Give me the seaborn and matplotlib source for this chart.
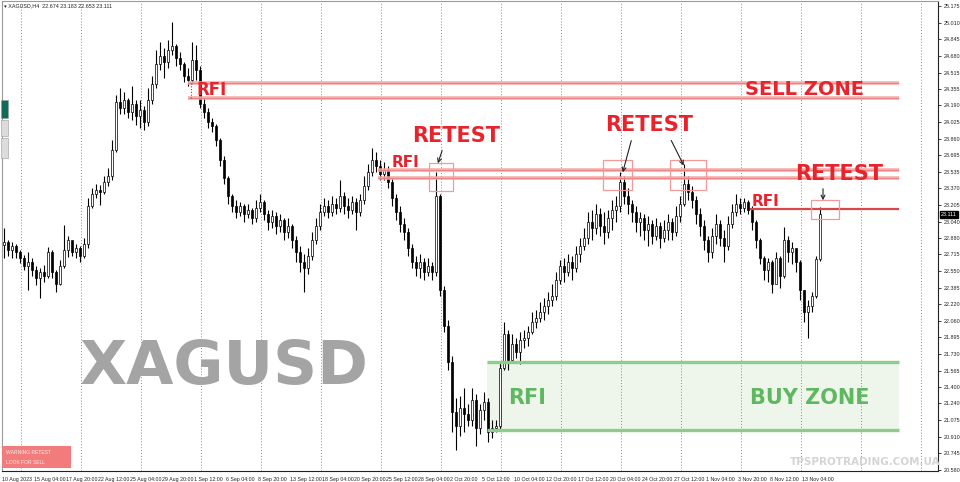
import numpy as np
import pandas as pd
import matplotlib
matplotlib.use("Agg")
import matplotlib.pyplot as plt
import seaborn as sns
from matplotlib.patches import Rectangle

# XAGUSD candles (8-hour buckets), prices in USD
first_open = 22.808
close = [
    22.838, 22.759, 22.799, 22.739, 22.680, 22.601, 22.640, 22.561, 22.482, 22.541,
    22.502, 22.739, 22.541, 22.422, 22.601, 22.759, 22.858, 22.739, 22.779, 22.700,
    22.818, 23.195, 23.313, 23.353, 23.333, 23.432, 23.492, 23.749, 24.224, 24.165,
    24.244, 24.125, 24.204, 24.086, 24.145, 24.026, 24.244, 24.402, 24.600, 24.680,
    24.620, 24.739, 24.779, 24.660, 24.600, 24.482, 24.442, 24.640, 24.541, 24.204,
    24.125, 24.026, 23.987, 23.848, 23.650, 23.472, 23.294, 23.195, 23.135, 23.195,
    23.115, 23.155, 23.076, 23.175, 23.234, 23.115, 23.036, 23.096, 22.997, 23.056,
    22.937, 22.997, 22.858, 22.739, 22.640, 22.581, 22.700, 22.858, 22.997, 23.135,
    23.195, 23.135, 23.214, 23.175, 23.294, 23.195, 23.155, 23.234, 23.135, 23.254,
    23.393, 23.531, 23.650, 23.591, 23.511, 23.551, 23.432, 23.274, 23.135, 23.016,
    22.937, 22.779, 22.640, 22.581, 22.640, 22.541, 22.601, 22.541, 23.294, 22.363,
    22.007, 21.650, 21.155, 21.017, 21.195, 21.135, 21.076, 21.274, 20.997, 21.175,
    21.254, 20.957, 20.997, 21.017, 21.591, 21.927, 21.670, 21.828, 21.749, 21.868,
    21.888, 21.947, 22.046, 22.086, 22.145, 22.205, 22.264, 22.304, 22.462, 22.601,
    22.541, 22.640, 22.581, 22.719, 22.799, 22.878, 23.036, 22.977, 23.115, 22.997,
    22.937, 23.076, 23.155, 23.195, 23.432, 23.294, 23.214, 23.135, 23.036, 23.076,
    22.957, 23.016, 22.898, 22.997, 22.878, 22.957, 23.036, 22.937, 23.096, 23.214,
    23.412, 23.333, 23.254, 23.115, 22.997, 22.858, 22.739, 22.898, 23.016, 22.878,
    22.799, 23.016, 23.135, 23.214, 23.175, 23.234, 23.155, 23.036, 22.858, 22.680,
    22.561, 22.640, 22.422, 22.680, 22.502, 22.858, 22.739, 22.779, 22.640, 22.363,
    22.145, 22.205, 22.304, 22.674, 23.111,
]
high = [
    22.977, 22.858, 22.838, 22.818, 22.759, 22.709, 22.739, 22.680, 22.601, 22.581,
    22.611, 22.789, 22.759, 22.561, 22.660, 23.007, 22.898, 22.818, 22.818, 22.799,
    22.878, 23.274, 23.373, 23.412, 23.403, 23.492, 23.571, 23.848, 24.294, 24.363,
    24.323, 24.264, 24.383, 24.244, 24.244, 24.185, 24.363, 24.482, 24.739, 24.818,
    24.759, 24.838, 25.016, 24.798, 24.719, 24.620, 24.561, 24.818, 24.788, 24.581,
    24.264, 24.165, 24.066, 24.006, 23.868, 23.690, 23.492, 23.313, 23.254, 23.234,
    23.214, 23.214, 23.175, 23.254, 23.313, 23.254, 23.155, 23.155, 23.135, 23.115,
    23.076, 23.076, 23.016, 22.898, 22.799, 22.719, 22.779, 22.937, 23.076, 23.214,
    23.274, 23.254, 23.294, 23.274, 23.452, 23.333, 23.274, 23.294, 23.274, 23.313,
    23.492, 23.610, 23.769, 23.729, 23.650, 23.630, 23.591, 23.472, 23.313, 23.195,
    23.076, 22.977, 22.818, 22.700, 22.719, 22.680, 22.680, 22.640, 23.531, 23.313,
    22.403, 22.066, 21.710, 21.294, 21.314, 21.393, 21.234, 21.393, 21.333, 21.234,
    21.353, 21.294, 21.076, 21.076, 21.650, 22.046, 21.967, 21.927, 21.888, 21.947,
    21.967, 22.007, 22.145, 22.165, 22.244, 22.284, 22.343, 22.422, 22.541, 22.660,
    22.680, 22.719, 22.700, 22.799, 22.878, 22.977, 23.135, 23.155, 23.214, 23.175,
    23.135, 23.155, 23.254, 23.294, 23.531, 23.492, 23.373, 23.254, 23.195, 23.135,
    23.115, 23.096, 23.056, 23.076, 23.036, 23.056, 23.115, 23.076, 23.195, 23.294,
    23.610, 23.492, 23.393, 23.294, 23.175, 23.056, 22.898, 22.977, 23.115, 23.056,
    22.957, 23.096, 23.214, 23.313, 23.274, 23.274, 23.254, 23.195, 23.056, 22.878,
    22.700, 22.680, 22.660, 22.739, 22.700, 22.987, 22.898, 22.838, 22.759, 22.660,
    22.363, 22.264, 22.343, 22.700, 23.183,
]
low = [
    22.680, 22.700, 22.680, 22.680, 22.630, 22.561, 22.363, 22.502, 22.412, 22.284,
    22.442, 22.482, 22.482, 22.343, 22.412, 22.581, 22.690, 22.700, 22.680, 22.640,
    22.680, 22.779, 23.175, 23.274, 23.204, 23.313, 23.393, 23.452, 23.729, 24.105,
    24.105, 24.066, 24.046, 23.997, 23.967, 23.947, 23.987, 24.204, 24.363, 24.541,
    24.462, 24.561, 24.689, 24.581, 24.541, 24.422, 24.383, 24.402, 24.442, 24.165,
    24.066, 23.967, 23.927, 23.789, 23.591, 23.412, 23.214, 23.135, 23.076, 23.096,
    23.036, 23.076, 23.016, 23.036, 23.135, 23.056, 22.957, 22.977, 22.917, 22.937,
    22.858, 22.878, 22.779, 22.640, 22.541, 22.343, 22.521, 22.660, 22.818, 22.957,
    23.096, 23.076, 23.096, 23.115, 23.135, 23.115, 23.076, 23.115, 22.957, 23.096,
    23.214, 23.353, 23.492, 23.531, 23.452, 23.452, 23.373, 23.195, 23.056, 22.937,
    22.858, 22.700, 22.581, 22.502, 22.482, 22.462, 22.502, 22.462, 22.502, 22.304,
    21.947, 21.571, 20.957, 20.779, 20.918, 20.957, 21.017, 21.017, 20.819, 20.937,
    21.076, 20.858, 20.898, 20.957, 20.977, 21.571, 21.571, 21.650, 21.690, 21.630,
    21.789, 21.809, 21.927, 21.987, 22.046, 22.066, 22.125, 22.205, 22.264, 22.422,
    22.442, 22.502, 22.462, 22.541, 22.640, 22.759, 22.818, 22.858, 22.917, 22.898,
    22.818, 22.878, 22.957, 23.036, 23.135, 23.214, 23.115, 23.036, 22.937, 22.898,
    22.858, 22.799, 22.818, 22.858, 22.779, 22.838, 22.858, 22.858, 22.898, 23.036,
    23.195, 23.254, 23.175, 23.016, 22.898, 22.759, 22.640, 22.680, 22.818, 22.799,
    22.640, 22.759, 22.977, 23.096, 23.115, 23.135, 23.115, 22.957, 22.779, 22.620,
    22.462, 22.442, 22.333, 22.541, 22.383, 22.482, 22.640, 22.620, 22.541, 22.264,
    22.046, 21.888, 22.145, 22.284, 22.653,
]

date_labels = [
    "10 Aug 2023", "15 Aug 04:00", "17 Aug 20:00", "22 Aug 12:00", "25 Aug 04:00",
    "29 Aug 20:00", "1 Sep 12:00", "6 Sep 04:00", "8 Sep 20:00", "13 Sep 12:00",
    "18 Sep 04:00", "20 Sep 20:00", "25 Sep 12:00", "28 Sep 04:00", "2 Oct 20:00",
    "5 Oct 12:00", "10 Oct 04:00", "12 Oct 20:00", "17 Oct 12:00", "20 Oct 04:00",
    "24 Oct 20:00", "27 Oct 12:00", "1 Nov 04:00", "3 Nov 20:00", "8 Nov 12:00",
    "13 Nov 04:00",
]
price_ticks = [
    25.175, 25.010, 24.845, 24.680, 24.515, 24.355, 24.190, 24.025, 23.860, 23.695,
    23.535, 23.370, 23.205, 23.040, 22.880, 22.715, 22.550, 22.385, 22.220, 22.060,
    21.895, 21.730, 21.565, 21.400, 21.240, 21.075, 20.910, 20.745, 20.580,
]
last_price = 23.111

sell_zone = (24.264, 24.412)
resistance = (23.472, 23.551)
rfi_level = 23.165
buy_zone = (20.977, 21.650)

sns.set_style("white")
plt.rcParams["font.family"] = ["DejaVu Sans"]
axis_font = ["Liberation Sans", "DejaVu Sans"]

df = pd.DataFrame({"close": close, "high": high, "low": low})
df["open"] = [first_open] + close[:-1]
df["bar"] = np.arange(len(df))
df["bottom"] = df[["open", "close"]].min(axis=1)
df["body"] = (df["close"] - df["open"]).abs().clip(lower=0.004)
up = df["close"] >= df["open"]

fig = plt.figure(figsize=(9.6, 4.82), dpi=100)
ax = fig.add_axes([2 / 960, 11 / 482, 936 / 960, 470 / 482])
ax.set_xlim(-0.5, 233.5)
ax.set_ylim(20.571, 25.224)

# dotted weekly separators
for k in range(16):
    ax.axvline(4.25 + 15 * k, color="#8a8a8a", lw=0.7, ls=(0, (1, 2)), zorder=1)

# buy zone fill
ax.add_patch(Rectangle((120.75, buy_zone[0]), 103, buy_zone[1] - buy_zone[0],
                       facecolor="#eef6ec", edgecolor="none", zorder=0.5))

# candles
ax.vlines(df["bar"], df["low"], df["high"], color="black", lw=0.8, zorder=3)
ax.bar(df.loc[up, "bar"], df.loc[up, "body"], bottom=df.loc[up, "bottom"], width=0.6,
       color="white", edgecolor="black", linewidth=0.5, zorder=4)
ax.bar(df.loc[~up, "bar"], df.loc[~up, "body"], bottom=df.loc[~up, "bottom"], width=0.6,
       color="black", edgecolor="black", linewidth=0.5, zorder=4)

red = "#e8232b"
green = "#5fb85f"

# zone lines
for lvl in sell_zone:
    ax.hlines(lvl, 46, 223.75, color="#f4a5a5", lw=2.6, zorder=5, alpha=0.9)
    ax.hlines(lvl, 46, 223.75, color="#ec7c7c", lw=0.6, zorder=5)
ax.vlines(46.75, sell_zone[0], sell_zone[1], color=red, lw=0.8, ls=(0, (1, 1.5)), zorder=5)
for lvl in resistance:
    ax.hlines(lvl, 93.5, 223.75, color="#f4a5a5", lw=2.6, zorder=5, alpha=0.9)
    ax.hlines(lvl, 93.5, 223.75, color="#ec7c7c", lw=0.6, zorder=5)
ax.hlines(rfi_level, 186.5, 223.75, color="#d94848", lw=1.6, zorder=5)
for lvl in buy_zone:
    ax.hlines(lvl, 120.75, 223.75, color="#8ccc8c", lw=2.4, zorder=5)

# retest boxes
for x0, x1, y0, y1 in [(106.25, 112.25, 23.343, 23.620), (149.75, 157.0, 23.353, 23.650),
                       (166.5, 175.5, 23.353, 23.650), (201.75, 208.75, 23.066, 23.254)]:
    ax.add_patch(Rectangle((x0, y0), x1 - x0, y1 - y0, facecolor="none",
                           edgecolor="#f09a9a", lw=0.9, zorder=6))

# arrows
for (xs, ys), (xe, ye) in [((109.75, 23.769), (108.25, 23.591)),
                           ((157.0, 23.868), (154.5, 23.501)),
                           ((166.5, 23.868), (170.25, 23.571)),
                           ((204.75, 23.393), (204.75, 23.224))]:
    ax.annotate("", xy=(xe, ye), xytext=(xs, ys),
                arrowprops=dict(arrowstyle="->", color="#222222", lw=0.8,
                                mutation_scale=7), zorder=7)

txt = dict(fontweight="bold", ha="left", va="center", zorder=8)
ax.text(48.25, 24.343, "RFI", color=red, fontsize=12, **txt)
ax.text(185.25, 24.343, "SELL ZONE", color=red, fontsize=14, **txt)
ax.text(97.0, 23.630, "RFI", color=red, fontsize=11, **txt)
ax.text(187.0, 23.244, "RFI", color=red, fontsize=11, **txt)
ax.text(102.0, 23.888, "RETEST", color=red, fontsize=15, **txt)
ax.text(150.25, 23.997, "RETEST", color=red, fontsize=15, **txt)
ax.text(197.75, 23.511, "RETEST", color=red, fontsize=15, **txt)
ax.text(126.0, 21.294, "RFI", color=green, fontsize=15, **txt)
ax.text(186.5, 21.294, "BUY ZONE", color=green, fontsize=15, **txt)
ax.text(19.0, 21.591, "XAGUSD", color="#a4a4a4", fontsize=44, fontweight="bold",
        ha="left", va="center", zorder=2)

# axes styling
ax.yaxis.tick_right()
ax.set_yticks(price_ticks)
ax.set_yticklabels([f"{v:.3f}" for v in price_ticks], fontsize=3.9,
                   color="#222222", family=axis_font)
ax.set_xticks(np.arange(len(date_labels)) * 8 - 0.5)
ax.set_xticklabels(date_labels, fontsize=3.8, color="#222222", ha="left",
                   family=axis_font)
ax.tick_params(axis="y", length=2.5, width=0.6, pad=2, colors="#222222")
ax.tick_params(axis="x", length=2.5, width=0.6, pad=1.5, colors="#222222")
for s in ("right", "bottom"):
    ax.spines[s].set_color("#222222")
    ax.spines[s].set_linewidth(0.8)
for s in ("left", "top"):
    ax.spines[s].set_color("#9a9a9a")
    ax.spines[s].set_linewidth(0.8)

ax.annotate(f"{last_price:.3f}", xy=(1.0, last_price), xycoords=("axes fraction", "data"),
            xytext=(2.0, 0), textcoords="offset points", fontsize=3.9, color="white",
            va="center", ha="left", family=axis_font,
            bbox=dict(boxstyle="square,pad=0.2", facecolor="black", edgecolor="black"))

# header and overlays
fig.text(4 / 960, 1 - 6 / 482, "\u25be XAGUSD,H4  22.674 23.183 22.653 23.111",
         fontsize=3.9, color="#222222", va="center", ha="left", family=axis_font)
fig.text(865 / 960, 1 - 462 / 482, "TPSPROTRADING.COM.UA", fontsize=7.5,
         fontweight="bold", color="#d4d4d4", ha="center", va="center")
fig.patches.append(Rectangle((2 / 960, 14 / 482), 69 / 960, 22 / 482,
                             transform=fig.transFigure, facecolor="#f27b7b",
                             edgecolor="none", zorder=10))
fig.text(6 / 960, 1 - 452 / 482, "WARNING RETEST", fontsize=3.6, color="white",
         alpha=0.85, va="center", ha="left", zorder=11, family=axis_font)
fig.text(6 / 960, 1 - 462 / 482, "LOOK FOR SELL", fontsize=3.6, color="white",
         alpha=0.85, va="center", ha="left", zorder=11, family=axis_font)
for y0, h, col in [(100, 18, "#106b5b"), (120, 16, "#dcdcdc"), (138, 20, "#dcdcdc")]:
    fig.patches.append(Rectangle((1 / 960, 1 - (y0 + h) / 482), 7 / 960, h / 482,
                                 transform=fig.transFigure, facecolor=col,
                                 edgecolor="#9a9a9a", lw=0.4, zorder=10))

fig.savefig("out.png", dpi=100)
